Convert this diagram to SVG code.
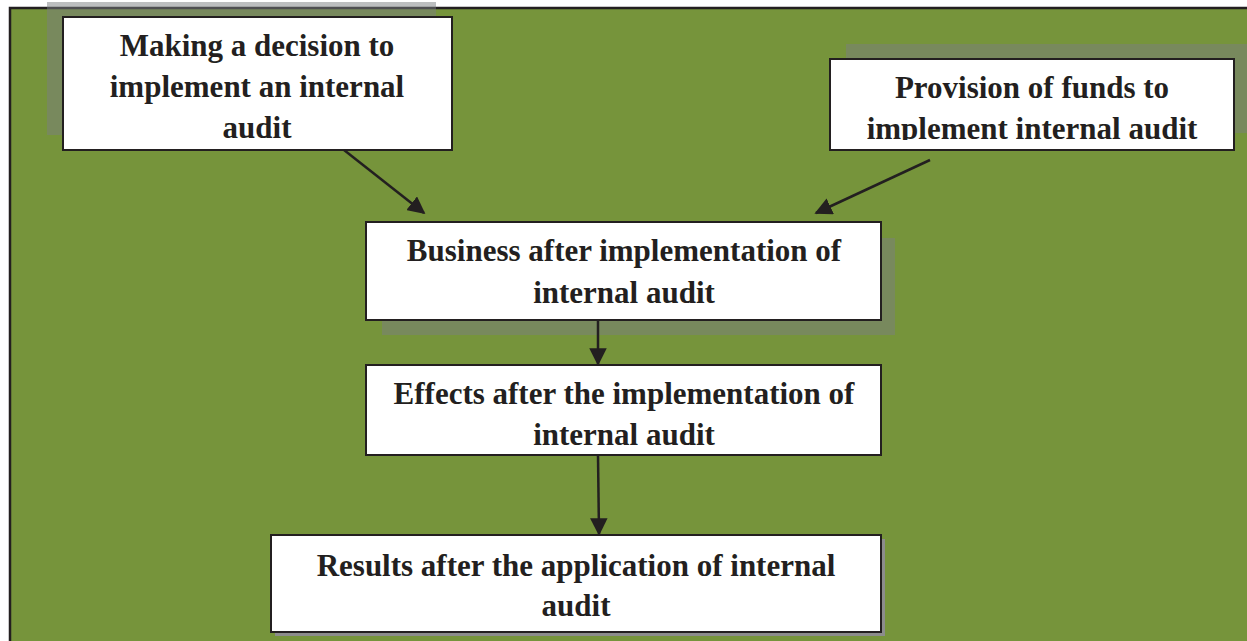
<svg xmlns="http://www.w3.org/2000/svg" width="1247" height="641" viewBox="0 0 1247 641">
<defs>
<style>
.box{fill:#fff;stroke:#231f20;stroke-width:2}
.sh{fill:#7a7d80;fill-opacity:0.5}
.t{font-family:"Liberation Serif","Times New Roman",serif;font-weight:bold;font-size:31px;fill:#231f20;text-anchor:middle}
.c{stroke:#231f20;stroke-width:2.5;fill:none;marker-end:url(#ah)}
</style>
<marker id="ah" viewBox="0 0 10 10" refX="9" refY="5" markerWidth="7" markerHeight="7" markerUnits="strokeWidth" orient="auto">
<path d="M0,0 L10,5 L0,10 z" fill="#231f20"/>
</marker>
<clipPath id="cp2"><rect x="830" y="59" width="404" height="81"/></clipPath>
<clipPath id="cp4"><rect x="366" y="365" width="515" height="81"/></clipPath>
</defs>
<rect width="1247" height="641" fill="#fff"/>
<rect x="10" y="8" width="1240" height="640" fill="#76943b" stroke="#231f20" stroke-width="2.5"/>
<g id="node1">
<rect class="sh" x="47" y="2" width="389" height="133"/>
<rect class="box" x="63" y="17" width="389" height="133"/>
<text class="t" x="257" y="56">Making a decision to</text>
<text class="t" x="257" y="97">implement an internal</text>
<text class="t" x="257" y="138">audit</text>
</g>
<g id="node2">
<rect class="sh" x="846" y="44" width="404" height="89"/>
<rect class="box" x="830" y="59" width="404" height="91"/>
<g clip-path="url(#cp2)">
<text class="t" x="1032" y="98">Provision of funds to</text>
<text class="t" x="1032" y="139">implement internal audit</text>
</g>
</g>
<g id="node3">
<rect class="sh" x="382" y="238" width="513" height="97"/>
<rect class="box" x="366" y="222" width="515" height="98"/>
<text class="t" x="624" y="261">Business after implementation of</text>
<text class="t" x="624" y="303">internal audit</text>
</g>
<g id="node4">
<rect class="box" x="366" y="365" width="515" height="90"/>
<g clip-path="url(#cp4)">
<text class="t" x="624" y="404">Effects after the implementation of</text>
<text class="t" x="624" y="445">internal audit</text>
</g>
</g>
<g id="node5">
<rect x="275" y="539" width="610" height="97" fill="#8c8c8c"/>
<rect class="box" x="271" y="535" width="610" height="97"/>
<text class="t" x="576" y="576">Results after the application of internal</text>
<text class="t" x="576" y="616">audit</text>
</g>
<g id="connectors">
<line class="c" x1="344" y1="150" x2="424" y2="213"/>
<line class="c" x1="930" y1="160" x2="816" y2="213"/>
<line class="c" x1="598" y1="320" x2="598" y2="364"/>
<line class="c" x1="598" y1="455" x2="599" y2="534"/>
</g>
</svg>
